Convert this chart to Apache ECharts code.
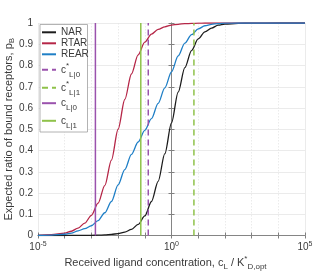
<!DOCTYPE html>
<html><head><meta charset="utf-8">
<script src="https://cdn.jsdelivr.net/npm/echarts@6/dist/echarts.min.js"></script>
<style>html,body{margin:0;padding:0;background:#fff}#c{width:316px;height:275px}</style>
</head><body><div id="c"></div>
<script>
// log10 of received ligand concentration c_L / K*_D,opt
const logConc = [-5, -4.5, -4, -3.75, -3.5, -3.25, -3, -2.75, -2.5, -2.25, -2, -1.75, -1.5, -1.25, -1, -0.75, -0.5, -0.25, 0, 0.25, 0.5, 0.75, 1, 1.25, 1.5, 1.75, 2, 2.5, 3, 4, 5];
const NAR  = [0, 0.00003, 0.0001, 0.0002, 0.0003, 0.0005, 0.0009, 0.0016, 0.0028, 0.005, 0.009, 0.016, 0.029, 0.052, 0.092, 0.16, 0.255, 0.385, 0.53, 0.675, 0.79, 0.87, 0.925, 0.958, 0.976, 0.99, 0.995, 0.998, 0.9995, 1, 1];
const RTAR = [0.001, 0.0035, 0.011, 0.02, 0.035, 0.058, 0.095, 0.152, 0.235, 0.355, 0.5, 0.64, 0.76, 0.85, 0.91, 0.948, 0.97, 0.982, 0.99, 0.994, 0.997, 0.998, 0.999, 1, 1, 1, 1, 1, 1, 1, 1];
const REAR = [0.0006, 0.002, 0.006, 0.011, 0.022, 0.032, 0.046, 0.07, 0.107, 0.16, 0.238, 0.31, 0.382, 0.44, 0.495, 0.55, 0.622, 0.695, 0.77, 0.845, 0.905, 0.945, 0.972, 0.987, 0.994, 0.997, 0.999, 1, 1, 1, 1];
// reference concentrations (log10) drawn as vertical lines
const refNames = ['cs0', 'cs1', 'c0', 'c1'];
const refLogConc = [-0.87, 0.84, -2.85, -1.15];
const xLabelExps = [-5, 0, 5];

const FONT = '"Liberation Sans", Arial, Helvetica, sans-serif';
const TXT = '#3a3a3a';
const AX = '#808080';
const PURPLE = '#9a52ad', GREEN = '#8fc24a';
const curveColors = ['#1c1c1c', '#b52647', '#1f7fc6'];
const refColors = [PURPLE, GREEN, PURPLE, GREEN];
const refDash = [[6, 4], [6, 4], 'solid', 'solid'];

const curves = [['NAR', NAR], ['RTAR', RTAR], ['REAR', REAR]];
const series = [];
curves.forEach(([name, ys], k) => {
  series.push({
    name, type: 'line', data: logConc.map((x, i) => [x, ys[i]]),
    symbol: 'none', smooth: 0.3, smoothMonotone: 'x',
    lineStyle: { color: curveColors[k], width: 1.3 }, itemStyle: { color: curveColors[k] }
  });
});
refNames.forEach((name, k) => {
  series.push({
    name, type: 'line', data: [[refLogConc[k], 0], [refLogConc[k], 1]],
    symbol: 'none',
    lineStyle: { color: refColors[k], width: 1.5, type: refDash[k] }, itemStyle: { color: refColors[k] }
  });
});

const richLeg = {
  n: { fontSize: 10, fontFamily: FONT, color: TXT },
  st: { fontSize: 8, fontFamily: FONT, color: TXT, padding: [0, 0, 8, 0] },
  sb: { fontSize: 8, fontFamily: FONT, color: TXT, padding: [9, 0, 0, 0] }
};
const legendLabels = {
  cs0: '{n|c}{st|*}{sb|L|0}', cs1: '{n|c}{st|*}{sb|L|1}',
  c0: '{n|c}{sb|L|0}', c1: '{n|c}{sb|L|1}'
};
const legBase = {
  orient: 'vertical', left: 41, padding: 0, itemWidth: 14, itemHeight: 10, itemGap: 0, z: 5,
  itemStyle: { opacity: 0, borderWidth: 0 },
  textStyle: { fontSize: 10, fontFamily: FONT, color: TXT, rich: richLeg },
  formatter: n => legendLabels[n] || ('{n|' + n + '}')
};
const legends = [
  Object.assign({}, legBase, { top: 26.8, data: ['NAR', 'RTAR', 'REAR'], textStyle: Object.assign({}, legBase.textStyle, { lineHeight: 11 }) }),
  Object.assign({}, legBase, { top: 61.8, data: ['cs0'] }),
  Object.assign({}, legBase, { top: 79.8, data: ['cs1'] }),
  Object.assign({}, legBase, { top: 98.2, data: ['c0'] }),
  Object.assign({}, legBase, { top: 115.8, data: ['c1'] })
];

const richAx = {
  b: { fontSize: 10, fontFamily: FONT, color: TXT },
  s: { fontSize: 7, fontFamily: FONT, color: TXT, padding: [0, 0, 6, 0] }
};
const richName = {
  sb: { fontSize: 8, fontFamily: FONT, color: TXT, padding: [8, 0, 0, 0] },
  st: { fontSize: 8, fontFamily: FONT, color: TXT, padding: [0, 0, 8, 0] }
};
const richNameY = {
  sb: { fontSize: 8, fontFamily: FONT, color: TXT, padding: [6, 0, 0, 0] }
};

const option = {
  animation: false,
  backgroundColor: '#fff',
  grid: { left: 38, top: 23, width: 267, height: 212.5, containLabel: false, outerBoundsMode: 'none' },
  legend: legends,
  graphic: { elements: [{ type: 'rect', z: 3, shape: { x: 40, y: 24.5, width: 47.5, height: 107.5 },
    style: { fill: '#fff', stroke: '#a0a0a0', lineWidth: 0.8 } }] },
  xAxis: [{
    type: 'value', min: -5, max: 5, interval: 5, position: 'bottom',
    axisLine: { show: true, lineStyle: { color: AX, width: 0.8 } },
    axisTick: { show: true, inside: true, length: 3, lineStyle: { color: AX } },
    minorTick: { show: true, splitNumber: 5, length: 3, lineStyle: { color: AX } },
    splitLine: { show: true, lineStyle: { color: '#e6e6e6', width: 0.8 } },
    minorSplitLine: { show: true, lineStyle: { color: '#e6e6e6', width: 0.8, type: [1.5, 1.5] } },
    axisLabel: { margin: 5, formatter: v => xLabelExps.includes(v) ? '{b|10}{s|' + v + '}' : '', rich: richAx },
    name: 'Received ligand concentration, c{sb|L} / K{st|*}{sb|D,opt}',
    nameLocation: 'middle', nameGap: 19, nameMoveOverlap: false,
    nameTextStyle: { fontSize: 11, fontFamily: FONT, color: TXT, rich: richName, padding: [0, 12, 0, 0] }
  }, {
    type: 'value', min: -5, max: 5, interval: 5, position: 'top',
    axisLine: { show: true, lineStyle: { color: AX, width: 0.8 } },
    axisTick: { show: true, inside: true, length: 3, lineStyle: { color: AX } },
    minorTick: { show: true, splitNumber: 5, length: 3, lineStyle: { color: AX } },
    splitLine: { show: false }, axisLabel: { show: false }
  }],
  yAxis: [{
    type: 'value', min: 0, max: 1, interval: 0.1, position: 'left',
    axisLine: { show: true, lineStyle: { color: AX, width: 0.8 } },
    axisTick: { show: true, inside: true, length: 3, lineStyle: { color: AX } },
    splitLine: { show: true, lineStyle: { color: '#e6e6e6', width: 0.8 } },
    axisLabel: { margin: 5, fontSize: 10, fontFamily: FONT, color: TXT, formatter: v => String(+v.toFixed(1)) },
    name: 'Expected ratio of bound receptors, p{sb|B}',
    nameLocation: 'middle', nameGap: 22, nameRotate: 90, nameMoveOverlap: false,
    nameTextStyle: { fontSize: 11, fontFamily: FONT, color: TXT, rich: richNameY }
  }, {
    type: 'value', min: 0, max: 1, interval: 0.1, position: 'right',
    axisLine: { show: true, lineStyle: { color: AX, width: 0.8 } },
    axisTick: { show: true, inside: true, length: 3, lineStyle: { color: AX } },
    splitLine: { show: false }, axisLabel: { show: false }
  }],
  series
};
const chart = echarts.init(document.getElementById('c'), null, { renderer: 'canvas' });
chart.setOption(option);
</script></body></html>
